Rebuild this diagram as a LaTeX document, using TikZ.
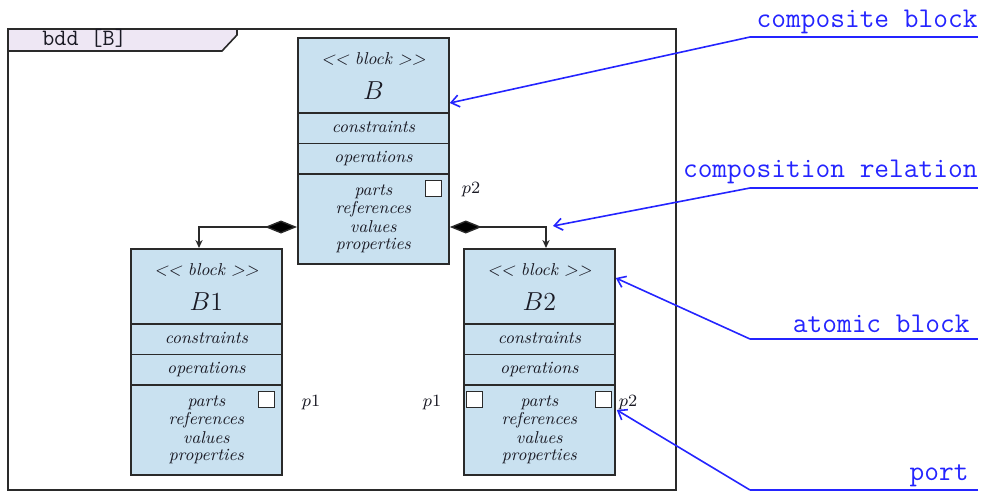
\RequirePackage{fix-cm}
\documentclass[tikz,border=0pt]{standalone}
\usetikzlibrary{arrows.meta,calc}

\definecolor{blockfill}{HTML}{C9E1F0}
\definecolor{edgegray}{HTML}{2A2A2A}
\definecolor{tabfill}{HTML}{EEE7F4}
\definecolor{annotblue}{HTML}{2424FF}
\definecolor{ink}{HTML}{1A1A24}

\tikzset{
  blockbody/.style={draw=edgegray, line width=0.9pt, fill=blockfill,
    minimum width=75.5pt, minimum height=113pt, inner sep=0pt, anchor=north west},
  sepline/.style={draw=edgegray, line width=0.9pt},
  small/.style={font=\fontsize{8.6}{9.3}\selectfont\itshape, text=ink, anchor=base, inner sep=0pt},
  big/.style={font=\fontsize{13}{14}\selectfont, text=ink, anchor=base, inner sep=0pt},
  portbox/.style={draw=edgegray, line width=0.8pt, fill=white, minimum size=8pt, inner sep=0pt},
  portlabel/.style={font=\fontsize{8.6}{9}\selectfont, text=ink, anchor=base, inner sep=0pt},
  annot/.style={font=\fontsize{14.3}{16}\selectfont\ttfamily, text=annotblue, anchor=base east, inner sep=0pt},
  annotline/.style={draw=annotblue, line width=0.8pt, -{Straight Barb[length=4pt,width=6pt]}},
  comp/.style={draw=edgegray, line width=0.7pt,
    {Diamond[length=16pt,width=6.5pt,fill=black]}-{Stealth[length=4pt,width=3.6pt]}},
}

% A SysML block with its four compartments: name, top-left corner, block name
\newcommand{\sysblock}[3]{%
  \node[blockbody] (#1) at (#2) {};
  \draw[sepline] ($(#1.north west)+(0,76)$) -- ($(#1.north east)+(0,76)$);
  \draw[sepline] ($(#1.north west)+(0,106.5)$) -- ($(#1.north east)+(0,106.5)$);
  \draw[sepline] ($(#1.north west)+(0,137)$) -- ($(#1.north east)+(0,137)$);
  \node[small] (#1-st) at ($(#1.north)+(0,27.5)$) {<{}< block >{}>};
  \node[big] (#1-nm) at ($(#1.north)+(0,62.5)$) {$#3$};
  \node[small] (#1-con) at ($(#1.north)+(0,95.5)$) {constraints};
  \node[small] (#1-ops) at ($(#1.north)+(0,125)$) {operations};
  \node[small] (#1-par) at ($(#1.north)+(0,158)$) {parts};
  \node[small] (#1-ref) at ($(#1.north)+(0,176)$) {references};
  \node[small] (#1-val) at ($(#1.north)+(0,195)$) {values};
  \node[small] (#1-pro) at ($(#1.north)+(0,212)$) {properties};
}

\begin{document}
\begin{tikzpicture}[x=0.5pt, y=-0.5pt]
\useasboundingbox (0,0) rectangle (982,493);

% diagram frame and its header tab
\draw[edgegray, line width=0.8pt] (8,29) rectangle (676,490);
\draw[edgegray, line width=0.8pt, fill=tabfill]
  (8,29) -- (237,29) -- (237,35) -- (222,51) -- (8,51) -- cycle;
\node[font=\fontsize{11.7}{13}\selectfont\ttfamily, text=ink, anchor=base west, inner sep=0pt]
  (title) at (42,45) {bdd [B]};

% blocks
\sysblock{B}{297,37}{B}
\sysblock{Bone}{130,248}{B1}
\sysblock{Btwo}{463,248}{B2}

% ports
\node[portbox] (B-p2) at (433.5,188.5) {};
\node[portlabel] (B-p2l) at (471,193) {$p2$};
\node[portbox] (Bone-p1) at (266.5,399.5) {};
\node[portlabel] (Bone-p1l) at (311,406) {$p1$};
\node[portbox] (Btwo-p1) at (474.5,399.5) {};
\node[portlabel] (Btwo-p1l) at (432,406) {$p1$};
\node[portbox] (Btwo-p2) at (603.5,399.5) {};
\node[portlabel] (Btwo-p2l) at (628,406) {$p2$};

% composition relations
\coordinate (cl) at ($(B.north west)+(0,190)$);
\coordinate (cr) at ($(B.north east)+(0,190)$);
\coordinate (tl) at ($(Bone.north west)+(69,0)$);
\coordinate (tr) at ($(Btwo.north west)+(83,0)$);
\draw[comp] (cl) -| (tl);
\draw[comp] (cr) -| (tr);

% annotations
\node[annot] (n1) at (978,27) {composite block};
\node[annot] (n2) at (978,177) {composition relation};
\node[annot] (n3) at (970,332) {atomic block};
\node[annot] (n4) at (969,480) {port};

\coordinate (u1) at (750,37);
\coordinate (u2) at (750,188);
\coordinate (u3) at (750,339);
\coordinate (u4) at (750,490);

\coordinate (a1) at ($(B.north east)+(0,66)$);
\coordinate (a2) at (553,226);
\coordinate (a3) at ($(Btwo.north east)+(0,30)$);
\coordinate (a4) at ($(Btwo.north east)+(1,162)$);

\draw[annotblue, line width=0.8pt] (978,37) -- (u1);
\draw[annotblue, line width=0.8pt] (978,188) -- (u2);
\draw[annotblue, line width=0.8pt] (978,339) -- (u3);
\draw[annotblue, line width=0.8pt] (978,490) -- (u4);
\draw[annotline] (u1) -- (a1);
\draw[annotline] (u2) -- (a2);
\draw[annotline] (u3) -- (a3);
\draw[annotline] (u4) -- (a4);
\end{tikzpicture}
\end{document}
